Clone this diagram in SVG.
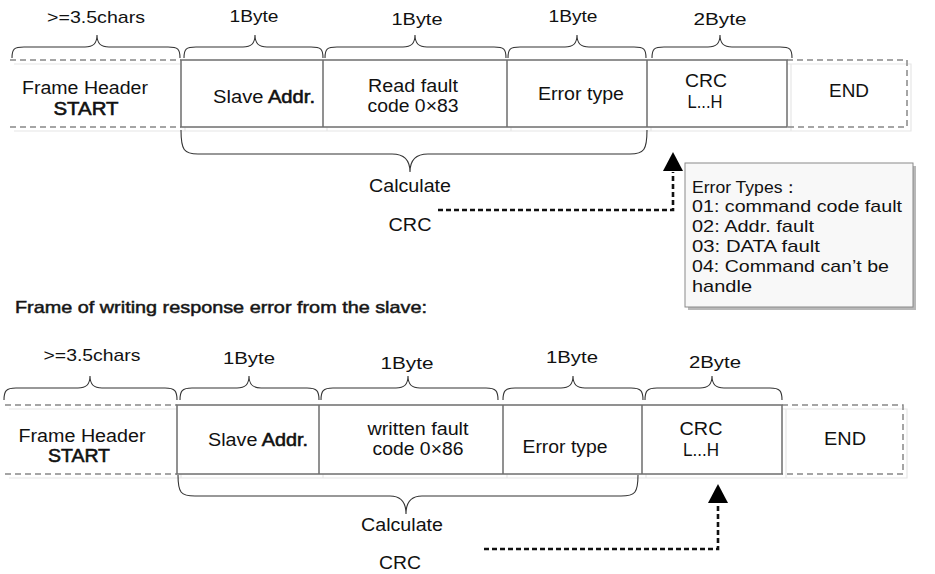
<svg xmlns="http://www.w3.org/2000/svg" width="935" height="574" viewBox="0 0 935 574">
<style>
text{font-family:"Liberation Sans",Arial,sans-serif;fill:#111;}
.t{font-size:17.5px;text-anchor:middle;}
.l{font-size:17px;text-anchor:middle;}
.e{font-size:17px;}
.b{stroke:#111;stroke-width:0.55;}
.cell{fill:#fff;stroke:#6e6e6e;stroke-width:1.5;}
.dash{fill:none;stroke:#888;stroke-width:1.5;stroke-dasharray:6 4;}
.faint{fill:none;stroke:#e6e6e6;stroke-width:1.2;}
.brace{fill:none;stroke:#333;stroke-width:1.1;}
.conn{fill:none;stroke:#111;stroke-width:2.6;stroke-dasharray:5 3;}
</style>

<!-- ===== Top frame ===== -->
<g id="top-frame">
<path class="faint" d="M14,64 H185 M14,131 H185 M185,64 H791 V131 H185 Z M327,64 V131 M511,64 V131 M651,64 V131 M791,64 H911 V131 H791"/>
<path class="dash" d="M10,60 H181 M10,127 H181"/>
<path class="dash" d="M787,60 H907 V127 H787"/>
<rect class="cell" x="181" y="60" width="606" height="67" fill="none"/>
<path class="cell" d="M323,60 V127 M507,60 V127 M647,60 V127" fill="none"/>
</g>

<g id="top-header"><text class="t" x="85" y="94" textLength="126" lengthAdjust="spacingAndGlyphs">Frame Header</text><text class="t b" x="86" y="115" textLength="65" lengthAdjust="spacingAndGlyphs">START</text></g>
<g id="top-slave"><text class="t" x="264" y="103" textLength="102" lengthAdjust="spacingAndGlyphs">Slave <tspan class="b">Addr.</tspan></text></g>
<g id="top-code"><text class="t" x="413" y="92" textLength="90" lengthAdjust="spacingAndGlyphs">Read fault</text><text class="t" x="413" y="112" textLength="91" lengthAdjust="spacingAndGlyphs">code 0×83</text></g>
<g id="top-error"><text class="t" x="581" y="100" textLength="86" lengthAdjust="spacingAndGlyphs">Error type</text></g>
<g id="top-crc"><text class="t" x="706" y="87" textLength="42" lengthAdjust="spacingAndGlyphs">CRC</text><text class="t" x="705" y="108" textLength="35" lengthAdjust="spacingAndGlyphs">L...H</text></g>
<g id="top-end"><text class="t" x="849" y="97" textLength="40" lengthAdjust="spacingAndGlyphs">END</text></g>

<g id="top-braces">
<path class="brace" d="M12,58 C12,49 14,47 24,47 L85,47 C93,47 97,44 97,35 C97,44 101,47 109,47 L168,47 C178,47 180,49 180,58"/>
<path class="brace" d="M184,58 C184,49 186,47 196,47 L243,47 C251,47 255,44 255,35 C255,44 259,47 267,47 L311,47 C321,47 323,49 323,58"/>
<path class="brace" d="M325,58 C325,49 327,47 337,47 L403,47 C411,47 415,44 415,35 C415,44 419,47 427,47 L494,47 C504,47 506,49 506,58"/>
<path class="brace" d="M508,58 C508,49 510,47 520,47 L565,47 C573,47 577,44 577,35 C577,44 581,47 589,47 L634,47 C644,47 646,49 646,58"/>
<path class="brace" d="M652,58 C652,49 654,47 664,47 L708,47 C716,47 720,44 720,35 C720,44 724,47 732,47 L780,47 C790,47 792,49 792,58"/>
<text class="l" x="96" y="23" textLength="98" lengthAdjust="spacingAndGlyphs">&gt;=3.5chars</text>
<text class="l" x="254" y="22" textLength="49" lengthAdjust="spacingAndGlyphs">1Byte</text>
<text class="l" x="417" y="25" textLength="51" lengthAdjust="spacingAndGlyphs">1Byte</text>
<text class="l" x="573" y="22" textLength="49" lengthAdjust="spacingAndGlyphs">1Byte</text>
<text class="l" x="720" y="25" textLength="53" lengthAdjust="spacingAndGlyphs">2Byte</text>
</g>

<g id="top-calc">
<path class="brace" d="M181,130 C181,150 184,154 198,154 L392,154 C404,154 410,160 410,172 C410,160 416,154 428,154 L630,154 C644,154 647,150 647,130"/>
<text class="t" x="410" y="192" textLength="82" lengthAdjust="spacingAndGlyphs">Calculate</text>
<text class="t" x="410" y="231" textLength="43" lengthAdjust="spacingAndGlyphs">CRC</text>
</g>

<g id="error-types">
<rect x="688" y="166" width="228" height="144" fill="#b8b8b8"/>
<rect x="685" y="163" width="228" height="144" fill="#f8f8f8" stroke="#8a8a8a" stroke-width="1"/>
<text class="e" x="692" y="193" textLength="108" lengthAdjust="spacingAndGlyphs">Error Types：</text>
<text class="e" x="692" y="212" textLength="210" lengthAdjust="spacingAndGlyphs">01: command code fault</text>
<text class="e" x="692" y="232" textLength="122" lengthAdjust="spacingAndGlyphs">02: Addr. fault</text>
<text class="e" x="692" y="252" textLength="128" lengthAdjust="spacingAndGlyphs">03: DATA fault</text>
<text class="e" x="692" y="272" textLength="197" lengthAdjust="spacingAndGlyphs">04: Command can’t be</text>
<text class="e" x="692" y="292" textLength="60" lengthAdjust="spacingAndGlyphs">handle</text>
</g>

<!-- ===== Heading ===== -->
<g id="heading">
<text x="15" y="313" font-size="16.5" fill="#222" stroke="#222" stroke-width="0.5" textLength="412" lengthAdjust="spacingAndGlyphs">Frame of writing response error from the slave:</text>
</g>

<!-- ===== Bottom frame ===== -->
<g id="bottom-frame">
<path class="faint" d="M9,409 H181 M9,478 H181 M181,409 H786 V478 H181 Z M323,409 V478 M507,409 V478 M646,409 V478 M786,409 H907 V478 H786"/>
<path class="dash" d="M5,405 H177 M5,474 H177"/>
<path class="dash" d="M782,405 H903 V474 H782"/>
<rect class="cell" x="177" y="405" width="605" height="69" fill="none"/>
<path class="cell" d="M319,405 V474 M503,405 V474 M642,405 V474" fill="none"/>
</g>

<g id="bot-header"><text class="t" x="82" y="442" textLength="127" lengthAdjust="spacingAndGlyphs">Frame Header</text><text class="t b" x="79" y="462" textLength="62" lengthAdjust="spacingAndGlyphs">START</text></g>
<g id="bot-slave"><text class="t" x="258" y="446" textLength="100" lengthAdjust="spacingAndGlyphs">Slave <tspan class="b">Addr.</tspan></text></g>
<g id="bot-code"><text class="t" x="418" y="435" textLength="101" lengthAdjust="spacingAndGlyphs">written fault</text><text class="t" x="418" y="455" textLength="91" lengthAdjust="spacingAndGlyphs">code 0×86</text></g>
<g id="bot-error"><text class="t" x="565" y="453" textLength="85" lengthAdjust="spacingAndGlyphs">Error type</text></g>
<g id="bot-crc"><text class="t" x="701" y="435" textLength="43" lengthAdjust="spacingAndGlyphs">CRC</text><text class="t" x="701" y="456" textLength="36" lengthAdjust="spacingAndGlyphs">L...H</text></g>
<g id="bot-end"><text class="t" x="845" y="445" textLength="42" lengthAdjust="spacingAndGlyphs">END</text></g>

<g id="bottom-braces">
<path class="brace" d="M4,400 C4,391 6,388 16,388 L78,388 C86,388 90,385 90,376 C90,385 94,388 102,388 L165,388 C175,388 177,391 177,400"/>
<path class="brace" d="M180,400 C180,391 182,388 192,388 L237,388 C245,388 249,385 249,376 C249,385 253,388 261,388 L307,388 C317,388 319,391 319,400"/>
<path class="brace" d="M321,400 C321,391 323,388 333,388 L396,388 C404,388 408,385 408,376 C408,385 412,388 420,388 L486,388 C496,388 498,391 498,400"/>
<path class="brace" d="M503,400 C503,391 505,388 515,388 L561,388 C569,388 573,385 573,376 C573,385 577,388 585,388 L631,388 C641,388 643,391 643,400"/>
<path class="brace" d="M645,400 C645,391 647,388 657,388 L700,388 C708,388 712,385 712,376 C712,385 716,388 724,388 L770,388 C780,388 782,391 782,400"/>
<text class="l" x="92" y="361" textLength="97" lengthAdjust="spacingAndGlyphs">&gt;=3.5chars</text>
<text class="l" x="249" y="364" textLength="52" lengthAdjust="spacingAndGlyphs">1Byte</text>
<text class="l" x="407" y="369" textLength="53" lengthAdjust="spacingAndGlyphs">1Byte</text>
<text class="l" x="572" y="363" textLength="52" lengthAdjust="spacingAndGlyphs">1Byte</text>
<text class="l" x="715" y="368" textLength="52" lengthAdjust="spacingAndGlyphs">2Byte</text>
</g>

<g id="bot-calc">
<path class="brace" d="M178,475 C178,493 181,496 195,496 L390,496 C401,496 406,502 406,514 C406,502 411,496 422,496 L621,496 C635,496 638,493 638,475"/>
<text class="t" x="402" y="531" textLength="82" lengthAdjust="spacingAndGlyphs">Calculate</text>
<text class="t" x="400" y="569" textLength="42" lengthAdjust="spacingAndGlyphs">CRC</text>
</g>

<!-- ===== Connectors ===== -->
<g id="connectors">
<path class="conn" d="M438,210 H673 V172"/>
<path d="M673,152 L683,171 L663,171 Z" fill="#000"/>
<path class="conn" d="M484,549 H718 V504"/>
<path d="M718,484 L728,503 L708,503 Z" fill="#000"/>
</g>
</svg>
